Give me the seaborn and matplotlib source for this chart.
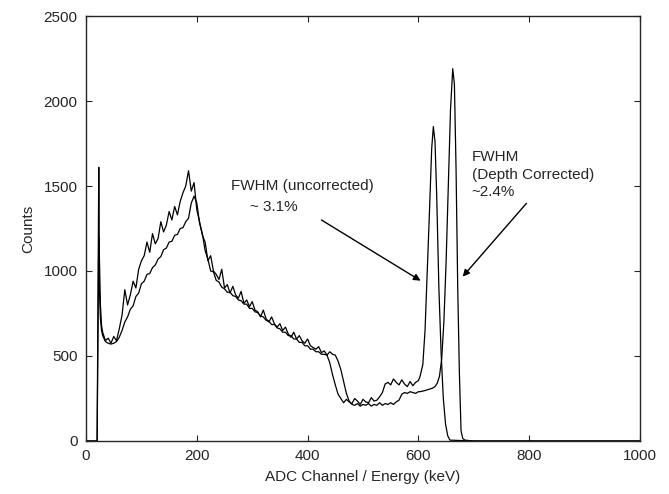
import matplotlib
matplotlib.use("Agg")
import matplotlib.pyplot as plt
import seaborn as sns
import pandas as pd
import numpy as np

# Uncorrected spectrum (counts per ADC channel)
unc_lead_ch = [0, 20, 23, 24, 26, 28]
unc_lead = [0, 0, 1610, 1100, 800, 680]
# channels 30 .. 600, step 5
unc_body = [
    640, 590, 605, 575, 615, 590, 660,
    740, 890, 800, 860, 940, 900, 1010, 1060,
    1090, 1170, 1110, 1220, 1160, 1190, 1290, 1230, 1270, 1350,
    1300, 1380, 1330, 1410, 1460, 1500, 1590, 1470, 1520, 1360,
    1290, 1210, 1170, 1060, 1090, 1000, 980, 950, 1010, 900,
    920, 870, 910, 860, 840, 880, 810, 830, 790, 820,
    770, 760, 730, 770, 720, 700, 730, 690, 670, 690,
    650, 670, 630, 610, 640, 600, 620, 590, 575, 600,
    560, 550, 540, 555, 520, 530, 505, 460, 390, 330,
    275, 250, 225, 245, 230, 220, 250, 235, 215, 245,
    230, 225, 255, 235, 240, 260, 285, 335, 345, 330,
    365, 345, 330, 360, 335, 320, 350, 325, 345, 355,
]
unc_peak_ch = [603, 608, 612, 616, 620, 624, 627, 630, 633, 637, 641, 645, 649, 653, 657, 700, 1000]
unc_peak = [380, 450, 650, 1000, 1350, 1720, 1850, 1760, 1450, 900, 520, 250, 100, 30, 5, 0, 0]

# Depth corrected spectrum
cor_lead_ch = [0, 20, 23, 24, 26, 28]
cor_lead = [0, 0, 1200, 900, 720, 650]
# channels 30 .. 600, step 5
cor_body = [
    620, 585, 575, 570, 575, 585, 610,
    650, 700, 730, 775, 795, 850, 870, 925,
    940, 980, 985, 1020, 1035, 1070, 1085, 1125, 1135, 1170,
    1175, 1210, 1215, 1250, 1255, 1290, 1310, 1400, 1440, 1400,
    1280, 1220, 1120, 1070, 1000, 995, 945, 935, 905, 895,
    875, 875, 855, 850, 830, 825, 805, 805, 780, 780,
    760, 755, 735, 730, 710, 705, 685, 685, 665, 660,
    640, 640, 620, 620, 600, 600, 580, 580, 560, 560,
    540, 540, 525, 525, 510, 510, 505, 525, 510, 505,
    470, 420, 350, 280, 235, 215, 210, 220, 205, 215,
    210, 220, 205, 215, 210, 225, 210, 220, 215, 225,
    215, 230, 240, 275, 285, 280, 290, 285, 280, 290,
]
cor_peak_ch = [603, 610, 615, 620, 625, 630, 634, 638, 642, 646, 650, 654, 658, 662, 665,
               668, 671, 674, 677, 680, 684, 700, 1000]
cor_peak = [290, 295, 300, 305, 310, 320, 340, 380, 480, 700, 1050, 1500, 1950, 2190, 2100,
            1600, 900, 400, 60, 15, 5, 0, 0]

body_ch = np.arange(30, 605, 5)

df = pd.concat([
    pd.DataFrame({"channel": np.concatenate([unc_lead_ch, body_ch, unc_peak_ch]),
                  "counts": np.concatenate([unc_lead, unc_body, unc_peak]),
                  "spectrum": "uncorrected"}),
    pd.DataFrame({"channel": np.concatenate([cor_lead_ch, body_ch, cor_peak_ch]),
                  "counts": np.concatenate([cor_lead, cor_body, cor_peak]),
                  "spectrum": "depth corrected"}),
], ignore_index=True)

sns.set_style("ticks")
plt.rcParams["font.family"] = ["Liberation Sans", "DejaVu Sans"]
plt.rcParams.update({
    "xtick.direction": "in", "ytick.direction": "in",
    "xtick.top": True, "ytick.right": True,
    "xtick.major.size": 4, "ytick.major.size": 4,
    "axes.linewidth": 1.0,
})

fig = plt.figure(figsize=(6.69, 4.94), dpi=100)
ax = fig.add_axes([0.1286, 0.1073, 0.828, 0.8603])

sns.lineplot(data=df, x="channel", y="counts", hue="spectrum",
             palette={"uncorrected": "black", "depth corrected": "black"},
             estimator=None, linewidth=0.9, legend=False, ax=ax)

ax.set_xlim(0, 1000)
ax.set_ylim(0, 2500)
ax.set_xticks([0, 200, 400, 600, 800, 1000])
ax.set_yticks([0, 500, 1000, 1500, 2000, 2500])
ax.tick_params(labelsize=11, pad=6)
ax.set_xlabel("ADC Channel / Energy (keV)", fontsize=11, labelpad=5)
ax.set_ylabel("Counts", fontsize=11, labelpad=6)

ax.text(262, 1500, "FWHM (uncorrected)", fontsize=11, va="center")
ax.text(296, 1376, "~ 3.1%", fontsize=11, va="center")
ax.annotate("", xy=(604, 943), xytext=(425, 1300),
            arrowprops=dict(arrowstyle="-|>", color="black", lw=1.0,
                            mutation_scale=10, shrinkA=0, shrinkB=0))

ax.text(696, 1673, "FWHM", fontsize=11, va="center")
ax.text(696, 1565, "(Depth Corrected)", fontsize=11, va="center")
ax.text(696, 1467, "~2.4%", fontsize=11, va="center")
ax.annotate("", xy=(680, 967), xytext=(795, 1398),
            arrowprops=dict(arrowstyle="-|>", color="black", lw=1.0,
                            mutation_scale=10, shrinkA=0, shrinkB=0))

fig.savefig("out.png", dpi=100)
